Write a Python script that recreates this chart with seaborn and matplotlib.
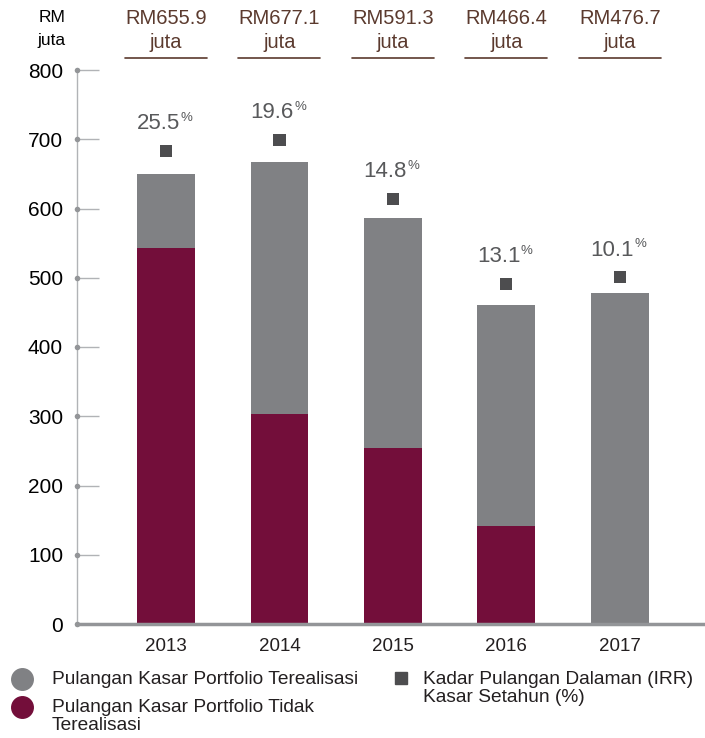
import matplotlib
matplotlib.use("Agg")
import matplotlib.pyplot as plt
import seaborn as sns
import pandas as pd
import numpy as np

years = ["2013", "2014", "2015", "2016", "2017"]
total_rm = [650, 667, 586, 461, 478]          # bar totals (RM juta)
unrealised_rm = [543, 303, 254, 141, 0]        # maroon segment
irr_marker_y = [683, 699, 614, 491, 501]       # marker positions
irr_labels = ["25.5", "19.6", "14.8", "13.1", "10.1"]
header_labels = ["RM655.9", "RM677.1", "RM591.3", "RM466.4", "RM476.7"]
yticks = [0, 100, 200, 300, 400, 500, 600, 700, 800]

GREY = "#808184"
MAROON = "#730e3a"
DARK = "#4d4d4f"
PCT = "#58595b"
BROWN = "#5b3a2e"
TXT = "#231f20"

sns.set_theme(style="white")
plt.rcParams["font.family"] = ["Liberation Sans", "DejaVu Sans"]

df = pd.DataFrame({"year": years, "total": total_rm, "unreal": unrealised_rm,
                   "irr": irr_marker_y})

fig = plt.figure(figsize=(7.05, 7.38), dpi=100)
ax = fig.add_axes([77/705, 1-624/738, 1-77/705, (624-70)/738])

sns.barplot(data=df, x="year", y="total", color=GREY, width=0.51, ax=ax,
            saturation=1, edgecolor="none")
sns.barplot(data=df, x="year", y="unreal", color=MAROON, width=0.51, ax=ax,
            saturation=1, edgecolor="none")
sns.scatterplot(data=df, x="year", y="irr", marker="s", s=76, color=DARK,
                edgecolor="none", ax=ax, zorder=5)

ax.set_xlim(-0.784, 4.75)
ax.set_ylim(0, 800)
ax.set_xlabel("")
ax.set_ylabel("")
ax.set_yticks(yticks)
ax.set_yticklabels([str(t) for t in yticks], fontsize=15, color="black")
ax.tick_params(axis="y", left=True, direction="in", length=16, width=1,
               color="#b1b3b6", pad=10)
ax.tick_params(axis="x", bottom=False, length=0, pad=10, labelsize=13.5)
for lab in ax.get_xticklabels():
    lab.set_color(TXT)
for s in ["top", "right"]:
    ax.spines[s].set_visible(False)
ax.spines["left"].set_color("#b1b3b6")
ax.spines["left"].set_linewidth(1)
ax.spines["bottom"].set_color("#939598")
ax.spines["bottom"].set_linewidth(2.5)

# tick dots
ax.scatter([ax.get_xlim()[0]] * len(yticks), yticks, s=16, color="#939598",
           clip_on=False, zorder=6, linewidths=0)

# IRR labels
for i, (lab, y) in enumerate(zip(irr_labels, irr_marker_y)):
    ax.annotate(lab, (i, y), xytext=(10, 15.5), textcoords="offset points",
                ha="right", va="baseline", fontsize=16, color=PCT)
    ax.annotate("%", (i, y), xytext=(10.5, 21.5), textcoords="offset points",
                ha="left", va="baseline", fontsize=9.5, color=PCT)

# header labels
for i, lab in enumerate(header_labels):
    xf = (77 + (i + 0.784) * 113.5) / 705
    fig.text(xf, 1 - 18/738, lab, ha="center", va="center", fontsize=14.5, color=BROWN)
    fig.text(xf, 1 - 43/738, "juta", ha="center", va="center", fontsize=14.5, color=BROWN)
    fig.add_artist(plt.Line2D([xf - 41/705, xf + 41/705], [1 - 58/738, 1 - 58/738],
                              color=BROWN, lw=1.2))
fig.text(52/705, 1 - 18/738, "RM", ha="center", va="center", fontsize=12.5, color="black")
fig.text(52/705, 1 - 40/738, "juta", ha="center", va="center", fontsize=12.5, color="black")

# legend
fig.add_artist(plt.Line2D([22/705], [1 - 679/738], marker="o", markersize=15.5,
                          color=GREY, lw=0))
fig.add_artist(plt.Line2D([22/705], [1 - 707/738], marker="o", markersize=15.5,
                          color=MAROON, lw=0))
fig.text(52/705, 1 - 680/738, "Pulangan Kasar Portfolio Terealisasi",
         ha="left", va="center", fontsize=13.8, color=TXT)
fig.text(52/705, 1 - 708/738, "Pulangan Kasar Portfolio Tidak",
         ha="left", va="center", fontsize=13.8, color=TXT)
fig.text(52/705, 1 - 726/738, "Terealisasi",
         ha="left", va="center", fontsize=13.8, color=TXT)
fig.add_artist(plt.Line2D([401/705], [1 - 678/738], marker="s", markersize=8.6,
                          color=DARK, lw=0))
fig.text(423/705, 1 - 680/738, "Kadar Pulangan Dalaman (IRR)",
         ha="left", va="center", fontsize=13.8, color=TXT)
fig.text(423/705, 1 - 698/738, "Kasar Setahun (%)",
         ha="left", va="center", fontsize=13.8, color=TXT)

fig.savefig("out.png", dpi=100)
